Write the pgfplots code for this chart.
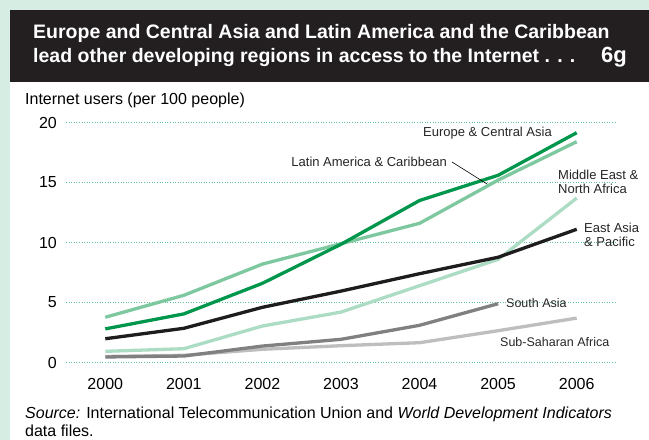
\documentclass[border=0pt]{standalone}
\usepackage{pgfplots}
\pgfplotsset{compat=1.18}
\usepackage{fontspec}
\setmainfont{Liberation Sans}
\definecolor{mintbg}{RGB}{214,237,228}
\definecolor{darkband}{RGB}{35,31,32}
\definecolor{gridc}{RGB}{95,190,155}
\definecolor{eur}{RGB}{0,150,76}
\definecolor{lat}{RGB}{126,200,160}
\definecolor{mena}{RGB}{172,220,196}
\definecolor{eap}{RGB}{30,28,28}
\definecolor{sas}{RGB}{128,128,128}
\definecolor{ssa}{RGB}{190,190,190}
\begin{document}
\begin{tikzpicture}
\path[use as bounding box] (0,0) rectangle (649bp,440bp);
\fill[mintbg] (0,0) rectangle (649bp,440bp);
\fill[darkband] (10bp,358bp) rectangle (649bp,430bp);
\fill[white] (10bp,0) rectangle (649bp,358bp);
\node[anchor=base west, inner sep=0pt, text=white, font=\fontsize{19.5bp}{22bp}\selectfont\bfseries] at (33bp,401bp) {Europe and Central Asia and Latin America and the Caribbean};
\node[anchor=base west, inner sep=0pt, text=white, font=\fontsize{19.5bp}{22bp}\selectfont\bfseries] at (33bp,377bp) {lead other developing regions in access to the Internet . . .};
\node[anchor=base east, inner sep=0pt, text=white, font=\fontsize{22bp}{24bp}\selectfont\bfseries] at (627bp,377bp) {6g};
\node[anchor=base west, inner sep=0pt, font=\fontsize{16bp}{18bp}\selectfont] at (25bp,335bp) {Internet users (per 100 people)};
\node[anchor=base west, inner sep=0pt, font=\fontsize{16bp}{18bp}\selectfont] at (25bp,22bp) {\textit{Source:} International Telecommunication Union and \textit{World Development Indicators}};
\node[anchor=base west, inner sep=0pt, font=\fontsize{16bp}{18bp}\selectfont] at (25bp,4bp) {data files.};
\begin{axis}[
  at={(66bp,77.5bp)}, anchor=south west,
  scale only axis, width=550bp, height=240bp,
  xmin=1999.5, xmax=2006.5, ymin=0, ymax=20,
  xtick={2000,...,2006}, ytick={0,5,10,15,20},
  xticklabel style={/pgf/number format/1000 sep={}, inner sep=0pt, anchor=north, yshift=-16bp, font=\fontsize{16bp}{18bp}\selectfont},
  yticklabel style={inner sep=0pt, anchor=east, xshift=-9bp, font=\fontsize{16bp}{18bp}\selectfont},
  /pgf/number format/assume math mode=true,
  axis line style={draw=none}, major tick length=0pt,
  ymajorgrids, grid style={gridc, line width=1bp, dash pattern=on 1bp off 1.6bp},
  clip=false,
  every axis plot/.append style={line width=3.3bp, line join=round, no markers},
]
\addplot[ssa] coordinates {(2000,0.5)(2001,0.6)(2002,1.1)(2003,1.4)(2004,1.65)(2005,2.65)(2006,3.7)};
\addplot[sas] coordinates {(2000,0.46)(2001,0.54)(2002,1.37)(2003,1.93)(2004,3.1)(2005,4.9)};
\addplot[mena] coordinates {(2000,0.93)(2001,1.15)(2002,3.04)(2003,4.2)(2004,6.4)(2005,8.6)(2006,13.7)};
\addplot[eap] coordinates {(2000,1.98)(2001,2.85)(2002,4.6)(2003,5.95)(2004,7.4)(2005,8.77)(2006,11.1)};
\addplot[lat] coordinates {(2000,3.77)(2001,5.6)(2002,8.2)(2003,9.9)(2004,11.6)(2005,15.2)(2006,18.4)};
\addplot[eur] coordinates {(2000,2.8)(2001,4.05)(2002,6.6)(2003,9.85)(2004,13.5)(2005,15.6)(2006,19.15)};
\end{axis}
\begin{scope}[every node/.style={inner sep=0pt, font=\fontsize{13bp}{14bp}\selectfont, text=black!85}]
\node[anchor=east] at (552bp,307bp) {Europe \& Central Asia};
\node[anchor=east] at (447bp,278bp) {Latin America \& Caribbean};
\draw[black, line width=0.6bp] (452bp,278bp) -- (487bp,256bp);
\node[anchor=west, align=left] at (558bp,258bp) {Middle East \&\\North Africa};
\node[anchor=west, align=left] at (584bp,205bp) {East Asia\\\& Pacific};
\node[anchor=west, font=\fontsize{12.5bp}{14bp}\selectfont] at (506bp,137bp) {South Asia};
\node[anchor=west, font=\fontsize{12.5bp}{14bp}\selectfont] at (500bp,98bp) {Sub-Saharan Africa};
\end{scope}
\end{tikzpicture}
\end{document}
